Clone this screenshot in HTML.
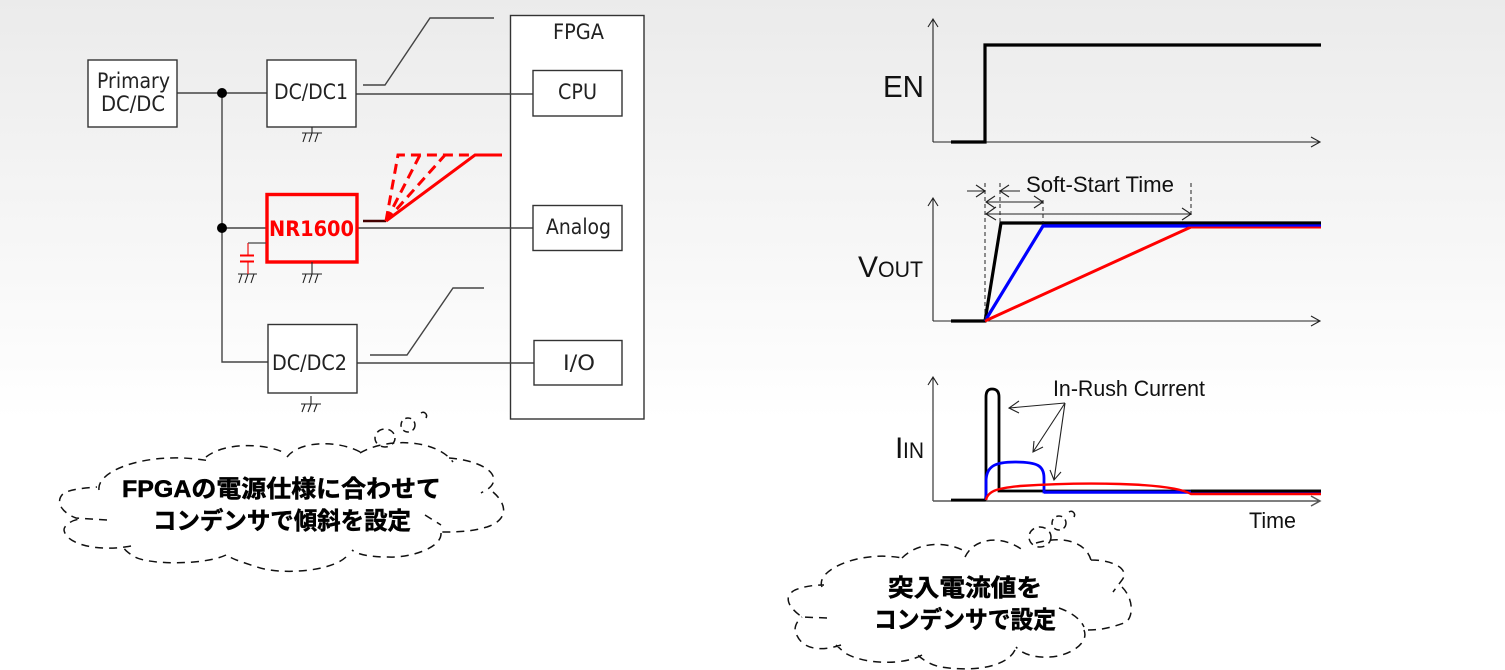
<!DOCTYPE html>
<html><head><meta charset="utf-8"><style>
html,body{margin:0;padding:0;width:1505px;height:670px;overflow:hidden;background:#fff}
svg{display:block}
text{font-family:"DejaVu Sans","Liberation Sans",sans-serif;fill:#222}
.a{font-family:"Liberation Sans",sans-serif;fill:#111}
.j{font-family:"Liberation Sans","Noto Sans CJK JP",sans-serif;font-weight:700;font-size:24px;fill:#000;stroke:#000;stroke-width:.5}
.b{fill:#fff;stroke:#333;stroke-width:1.4}
.l{fill:none;stroke:#444;stroke-width:1.4}
.t{fill:none;stroke:#222;stroke-width:1.1}
.c{fill:none;stroke:#111;stroke-width:1.5;stroke-dasharray:8 6}
</style></head><body>
<svg width="1505" height="670" viewBox="0 0 1505 670" xmlns="http://www.w3.org/2000/svg">
<defs><linearGradient id="g" x1="0" y1="0" x2="0" y2="1"><stop offset="0" stop-color="#ebebeb"/><stop offset="1" stop-color="#fff"/></linearGradient></defs>
<rect width="1505" height="420" fill="url(#g)"/>

<!-- left schematic -->
<rect class="b" x="510.500" y="15.500" width="133.500" height="403.500"/>
<path class="l" d="M177 93H267M222 93V362H268M222 228H267M356 94H533M357 228H533M357 363H534"/>
<circle cx="222" cy="93" r="5" fill="#000"/><circle cx="222" cy="228" r="5" fill="#000"/>
<rect class="b" x="88" y="60" width="89" height="67"/>
<rect class="b" x="267" y="60" width="89" height="67"/>
<rect class="b" x="268" y="324.500" width="89" height="68.500"/>
<rect class="b" x="533" y="70.500" width="89" height="45.500"/>
<rect class="b" x="533" y="205.500" width="89" height="45"/>
<rect class="b" x="534" y="340.500" width="88" height="44.500"/>
<rect x="267" y="194.500" width="90" height="67.500" fill="none" stroke="#f00" stroke-width="3.400"/>
<path class="l" d="M363 85H385L430 18H494M370 355H407L453 288H484"/>
<text x="97" y="88" font-size="21" textLength="73" lengthAdjust="spacingAndGlyphs">Primary</text>
<text x="101" y="111" font-size="21" textLength="64" lengthAdjust="spacingAndGlyphs">DC/DC</text>
<text x="274" y="99" font-size="21" textLength="74" lengthAdjust="spacingAndGlyphs">DC/DC1</text>
<text x="272" y="370" font-size="21" textLength="75" lengthAdjust="spacingAndGlyphs">DC/DC2</text>
<text x="553" y="39" font-size="21" textLength="51" lengthAdjust="spacingAndGlyphs">FPGA</text>
<text x="558" y="99" font-size="21" textLength="39" lengthAdjust="spacingAndGlyphs">CPU</text>
<text x="546" y="234" font-size="21" textLength="65" lengthAdjust="spacingAndGlyphs">Analog</text>
<text x="563" y="370" font-size="21" textLength="32" lengthAdjust="spacingAndGlyphs">I/O</text>
<text x="269" y="236" font-size="21" font-weight="700" style="fill:#f00" textLength="85" lengthAdjust="spacingAndGlyphs">NR1600</text>

<!-- grounds -->
<path class="t" d="M312 127V133M302 133H322M306 133L303 142M312 133L309 142M318 133L315 142"/>
<path class="t" d="M312 262V274M302 274H322M306 274L303 283M312 274L309 283M318 274L315 283"/>
<path class="t" d="M311 396V404M301 404H321M305 404L302 412M311 404L308 412M317 404L314 412"/>
<path class="t" d="M238 274H257M242 274L239 283M248 274L245 283M254 274L251 283"/>
<path fill="none" stroke="#444" stroke-width="1.200" d="M266 243H248"/>
<path fill="none" stroke="#e11" stroke-width="1.200" d="M248 243V255M248 262V274"/>
<path fill="none" stroke="#f00" stroke-width="2" d="M240 255.500H254M240 261.500H254"/>

<!-- red ramp -->
<path d="M363 221H386" fill="none" stroke="#400" stroke-width="2.500"/>
<path d="M386 221L475 155H502" fill="none" stroke="#f00" stroke-width="3"/>
<path d="M386 221L398 155H475M386 221L420 155M386 221L445 155" fill="none" stroke="#f00" stroke-width="3" stroke-dasharray="10 6"/>

<!-- left cloud -->
<path class="c" d="M99 490C96 470 150 450 210 461M206 457C225 442 265 443 285 453M287 457C300 440 340 440 362 453M360 453C385 438 435 438 453 462M449 458C475 460 498 470 493 483C491 488 486 490 481 493M493 492C508 505 508 520 487 527C470 532 455 532 441 532M425 515L441 525M441 533C442 548 410 558 388 557C372 557 358 555 352 550M346 557C330 572 280 575 257 567C245 563 235 560 230 557M226 555C205 565 150 565 135 557C128 553 125 550 123 547M131 546C100 552 66 545 64 530C64 525 72 520 80 519M107 520L76 518C60 512 55 500 64 493C72 489 85 488 97 487"/>
<ellipse class="c" cx="385" cy="438" rx="10" ry="9" style="stroke-dasharray:7 5"/>
<ellipse class="c" cx="408" cy="425" rx="7" ry="7" style="stroke-dasharray:6 4"/>
<path class="c" d="M421 413C424 411 428 414 426 418" style="stroke-dasharray:none"/>
<text class="j" x="122" y="497" textLength="319" lengthAdjust="spacingAndGlyphs">FPGAの電源仕様に合わせて</text>
<text class="j" x="153" y="529" textLength="258" lengthAdjust="spacingAndGlyphs">コンデンサで傾斜を設定</text>

<!-- right charts -->
<path class="t" d="M933 142V19M928 27L933 19L938 27M933 142H1320M1311 137L1320 142L1311 147"/>
<path class="t" d="M933 321V198M928 206L933 198L938 206M933 321H1320M1311 316L1320 321L1311 326"/>
<path class="t" d="M933 501V377M928 385L933 377L938 385" />
<path fill="none" stroke="#555" stroke-width="1.500" d="M933 501H1320M1311 496L1320 501L1311 506"/>
<path d="M951 142H985V45H1321" fill="none" stroke="#000" stroke-width="3.200"/>
<path d="M951 321H985L1001 223H1321" fill="none" stroke="#000" stroke-width="3.200"/>
<path d="M985 321L1043 226H1321" fill="none" stroke="#00f" stroke-width="3.200"/>
<path d="M985 321L1191 227H1321" fill="none" stroke="#f00" stroke-width="3"/>
<path d="M1191 224.500H1321" fill="none" stroke="#000" stroke-width="3"/>
<path d="M1043 225.500H1321" fill="none" stroke="#00f" stroke-width="2.200"/>
<path d="M985 183V321M1000 183V223M1043 200V223M1191 183V215" fill="none" stroke="#222" stroke-width="1" stroke-dasharray="4 3"/>
<path class="t" d="M967 191H985M976 185L985 191L976 197M1020 191H1000M1009 185L1000 191L1009 197"/>
<path class="t" d="M986 202H1043M995 196L986 202L995 208M1034 196L1043 202L1034 208"/>
<path class="t" d="M986 214H1191M996 207L986 214L996 220M1182 208L1191 214L1182 220"/>
<text class="a" x="1026" y="192" font-size="22" textLength="148" lengthAdjust="spacingAndGlyphs">Soft-Start  Time</text>
<text class="a" x="883" y="97" font-size="31" textLength="41" lengthAdjust="spacingAndGlyphs">EN</text>
<text class="a" x="858" y="277" font-size="30">V</text>
<text class="a" x="878" y="277" font-size="22" textLength="45" lengthAdjust="spacingAndGlyphs">OUT</text>
<text class="a" x="895" y="458" font-size="30">I</text>
<text class="a" x="903" y="458" font-size="22" textLength="21" lengthAdjust="spacingAndGlyphs">IN</text>
<text class="a" x="1053" y="396" font-size="22" textLength="152" lengthAdjust="spacingAndGlyphs">In-Rush  Current</text>
<text class="a" x="1249" y="528" font-size="22" textLength="47" lengthAdjust="spacingAndGlyphs">Time</text>

<path d="M951 500H985Q986 500 986 490V397Q986 389 992 389Q999 389 999 397V491H1321" fill="none" stroke="#000" stroke-width="2.800"/>
<path d="M986 500V482C986 466 995 462 1015 462C1038 462 1044 466 1044 478V492H1191" fill="none" stroke="#00f" stroke-width="2.800"/>
<path d="M1044 492.500H1321" fill="none" stroke="#00f" stroke-width="2.600"/>
<path d="M1191 491H1321" fill="none" stroke="#000" stroke-width="2.800"/>
<path d="M986 500C988 490 1000 488 1020 486C1080 482 1170 482 1191 494H1321" fill="none" stroke="#f00" stroke-width="2.400"/>
<path class="t" d="M1065 403L1009 408M1019 401L1009 408L1019 413M1065 403L1033 452M1034 441L1033 452L1043 447M1065 403L1054 480M1050 470L1054 480L1061 472"/>

<!-- right cloud -->
<path class="c" d="M822 587C815 570 860 550 902 558M902 558C920 540 950 542 966 552M965 557C975 536 1005 535 1025 552M1036 543C1060 536 1085 540 1091 560M1091 560C1115 560 1130 570 1122 580L1113 592M1122 587C1135 600 1133 620 1124 623C1110 628 1100 630 1088 630M1059 608C1070 612 1080 618 1084 627M1084 630C1090 645 1065 657 1049 657C1035 658 1022 654 1016 647M1015 650C1005 670 965 671 941 667C930 665 920 658 916 653M922 655C905 665 865 665 845 653L836 645M841 645C820 652 800 650 795 630C795 625 798 620 802 617M827 618L802 617C785 605 785 595 795 590C805 586 815 585 824 585"/>
<ellipse class="c" cx="1040" cy="537" rx="11" ry="10" style="stroke-dasharray:7 5"/>
<ellipse class="c" cx="1059" cy="523" rx="7" ry="7" style="stroke-dasharray:6 4"/>
<path class="c" d="M1069 512C1072 510 1076 513 1074 517" style="stroke-dasharray:none"/>
<text class="j" x="888" y="596" textLength="154" lengthAdjust="spacingAndGlyphs">突入電流値を</text>
<text class="j" x="874" y="628" textLength="182" lengthAdjust="spacingAndGlyphs">コンデンサで設定</text>
</svg>
</body></html>
